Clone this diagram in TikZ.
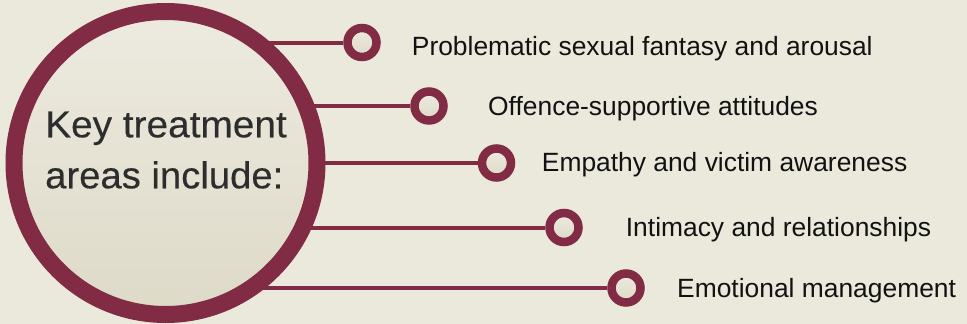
\documentclass[tikz,border=0pt]{standalone}
\usepackage{fontspec}
\setmainfont{Liberation Sans}
\newfontfamily\hubfont[FakeBold=0.3]{Liberation Sans}
\usetikzlibrary{backgrounds}
\definecolor{maroon}{RGB}{130,43,68}
\definecolor{bgcol}{RGB}{235,232,220}
\definecolor{filltop}{RGB}{237,234,224}
\definecolor{fillbot}{RGB}{222,218,200}
\definecolor{hubtxt}{RGB}{45,45,45}
\tikzset{
  hubcircle/.style={circle, draw=maroon, line width=17pt, minimum size=303pt, inner sep=0pt,
    top color=filltop, bottom color=fillbot},
  dotcircle/.style={circle, draw=maroon, line width=8.5pt, minimum size=29pt, inner sep=0pt,
    top color=filltop, bottom color=fillbot},
  link/.style={draw=maroon, line width=4pt},
  item/.style={anchor=base west, inner sep=0pt, text=black!93,
    font=\fontsize{26.4}{30}\selectfont},
  hubline/.style={anchor=base west, inner sep=0pt, text=hubtxt,
    font=\hubfont\fontsize{37.5}{40}\selectfont}
}
\begin{document}
\begin{tikzpicture}[x=1pt,y=-1pt]
\useasboundingbox (0,0) rectangle (967,324);
\node[hubcircle] (hub) at (165.5,163) {};
\node[dotcircle] (c1) at (362,42.5) {};
\node[dotcircle] (c2) at (429,106) {};
\node[dotcircle] (c3) at (496.5,163) {};
\node[dotcircle] (c4) at (564,227.5) {};
\node[dotcircle] (c5) at (626,288) {};
\begin{scope}[on background layer]
  \fill[bgcol] (0,0) rectangle (967,324);
  \foreach \c in {c1,c2,c3,c4,c5}{
    \draw[link] (hub.center |- \c) -- (\c);
  }
\end{scope}
\node[hubline] (h1) at (45,137.3) {\scalebox{1.035}[1]{Key treatment}};
\node[hubline] (h2) at (45,188.3) {\scalebox{1.02}[1]{areas include:}};
\node[item] (t1) at (411.7,55) {Problematic sexual fantasy and arousal};
\node[item] (t2) at (488,115) {Offence-supportive attitudes};
\node[item] (t3) at (541.7,171.7) {Empathy and victim awareness};
\node[item] (t4) at (625.7,236) {Intimacy and relationships};
\node[item] (t5) at (677,297) {Emotional management};
\end{tikzpicture}
\end{document}
